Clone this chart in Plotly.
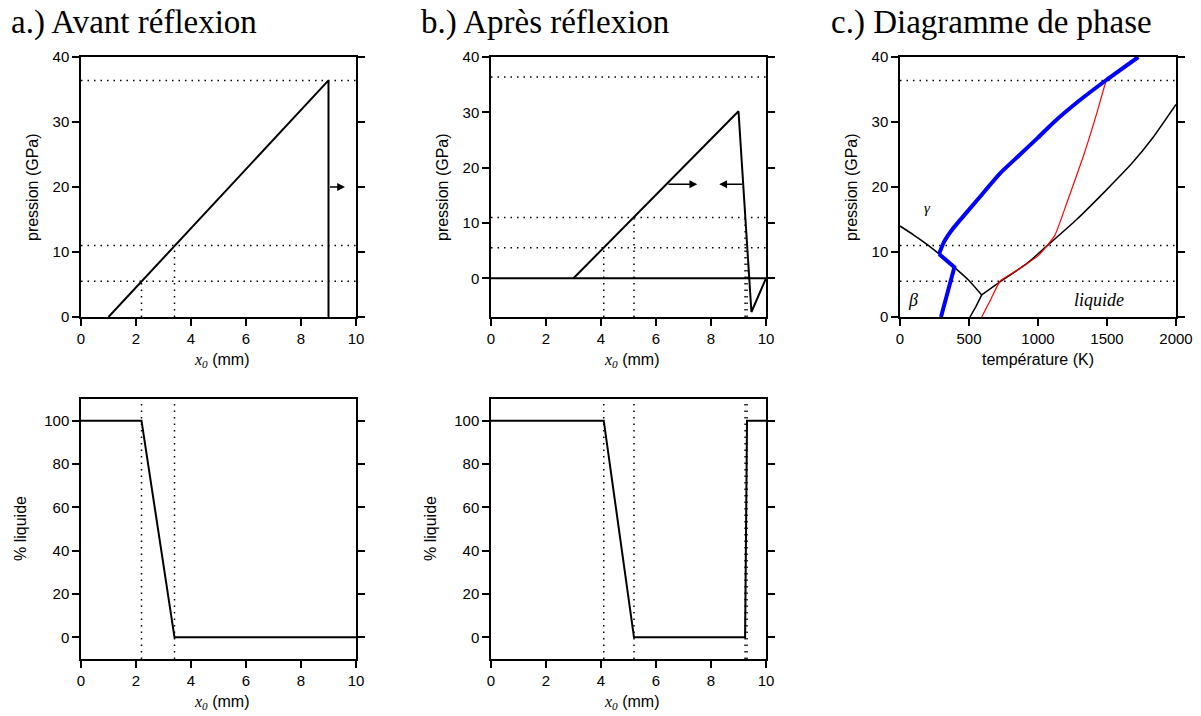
import plotly.graph_objects as go

# ---- data ----------------------------------------------------------------
# pressure levels marked by the dotted lines (GPa)
P_LEVELS = [36.4, 11.0, 5.5]

# a.) before reflection: pressure profile
A_X = [1.0, 9.0, 9.0]
A_P = [0.0, 36.4, 0.0]
A_ARROW_X = [9.0, 9.6]
A_ARROW_P = 20.0
A_VX = [2.2, 3.4]            # dotted verticals
A_VTOP = [5.5, 11.0]
A_LIQ_X = [0.0, 2.2, 3.4, 10.0]
A_LIQ = [100.0, 100.0, 0.0, 0.0]

# b.) after reflection
B_ZERO_X = [0.0, 10.0]
B_ZERO_P = [0.0, 0.0]
B_X = [3.0, 9.0, 9.47, 10.0]
B_P = [0.0, 30.2, -6.1, 0.0]
B_ARROW_R = [6.4, 7.5]
B_ARROW_L = [9.18, 8.3]
B_ARROW_P = 17.0
B_VX = [4.1, 5.2, 9.24, 9.31]
B_VTOP = [5.5, 11.0, 11.0, 5.5]
B_LIQ_X = [0.0, 4.1, 5.2, 9.24, 9.31, 10.0]
B_LIQ = [100.0, 100.0, 0.0, 0.0, 100.0, 100.0]

# c.) phase diagram (T in K, P in GPa)
GB_T = [0, 100, 200, 283, 394, 496, 592]            # gamma / beta
GB_P = [14.0, 12.6, 11.1, 9.7, 7.65, 5.7, 3.4]
BL_T = [507, 550, 592]                               # beta / liquid
BL_P = [0.0, 1.6, 3.4]
GL_T = [592, 737, 918, 1063, 1280, 1498, 1679, 1836, 2000]  # gamma / liquid
GL_P = [3.4, 5.6, 8.2, 10.9, 15.0, 19.6, 23.6, 27.7, 32.7]
BLUE_LOW_T = [297, 320, 343, 370, 394, 283]          # beta branch + along boundary
BLUE_LOW_P = [0.0, 1.8, 3.6, 5.7, 7.65, 9.7]
BLUE_UP_T = [283, 320, 380, 435, 580, 725, 870, 1000, 1111, 1300, 1498, 1727]
BLUE_UP_P = [9.7, 11.6, 13.5, 14.9, 18.5, 22.1, 25.0, 27.6, 29.9, 33.3, 36.5, 40.0]
RED_T = [592, 660, 725, 850, 1000, 1063, 1123, 1208, 1328, 1425, 1495]
RED_P = [0.0, 2.8, 5.5, 7.2, 9.4, 10.9, 12.6, 17.5, 24.7, 31.3, 36.5]

TICKS_X = [0, 2, 4, 6, 8, 10]
TICKS_P = [0, 10, 20, 30, 40]
TICKS_LIQ = [0, 20, 40, 60, 80, 100]
TICKS_T = [0, 500, 1000, 1500, 2000]

SANS = "Liberation Sans, Arial, sans-serif"
SERIF = "Liberation Serif, Times New Roman, serif"
DOT = dict(color="black", width=1.5, dash="1.5px,5px")
X0_TITLE = f'<span style="font-family:{SERIF}"><i>x</i><sub><i>0</i></sub></span> (mm)'

# figure fills the whole page (body margin removed in post_script)
W, H = 1201, 716


def px(x):
    return x / W


def py(y):
    return 1 - y / H


def hlines(levels, x0, x1):
    xs, ys = [], []
    for p in levels:
        xs += [x0, x1, None]
        ys += [p, p, None]
    return xs, ys


def vlines(xs_in, bottom, tops):
    xs, ys = [], []
    for x, t in zip(xs_in, tops):
        xs += [x, x, None]
        ys += [bottom, t, None]
    return xs, ys


fig = go.Figure()


def add_line(x, y, xa, ya, line):
    fig.add_trace(
        go.Scatter(x=x, y=y, mode="lines", line=line, xaxis=xa, yaxis=ya,
                   hoverinfo="skip", showlegend=False, connectgaps=False)
    )


SOLID = dict(color="black", width=2)

# a.) top
hx, hy = hlines(P_LEVELS, 0, 10)
add_line(hx, hy, "x", "y", DOT)
vx, vy = vlines(A_VX, 0, A_VTOP)
add_line(vx, vy, "x", "y", DOT)
add_line(A_X, A_P, "x", "y", SOLID)

# a.) bottom
vx, vy = vlines(A_VX, -10, [110, 110])
add_line(vx, vy, "x4", "y4", DOT)
add_line(A_LIQ_X, A_LIQ, "x4", "y4", SOLID)

# b.) top
add_line(hx, hy, "x2", "y2", DOT)
vx, vy = vlines(B_VX, -7, B_VTOP)
add_line(vx, vy, "x2", "y2", DOT)
add_line(B_ZERO_X, B_ZERO_P, "x2", "y2", SOLID)
add_line(B_X, B_P, "x2", "y2", SOLID)

# b.) bottom
vx, vy = vlines(B_VX, -10, [110] * len(B_VX))
add_line(vx, vy, "x5", "y5", DOT)
add_line(B_LIQ_X, B_LIQ, "x5", "y5", SOLID)

# c.) phase diagram
hx, hy = hlines(P_LEVELS, 0, 2000)
add_line(hx, hy, "x3", "y3", DOT)
THIN = dict(color="black", width=1.5, shape="spline", smoothing=0.6)
add_line(GB_T, GB_P, "x3", "y3", THIN)
add_line(BL_T, BL_P, "x3", "y3", dict(color="black", width=1.5))
add_line(GL_T, GL_P, "x3", "y3", THIN)
add_line(RED_T, RED_P, "x3", "y3", dict(color="red", width=1.2, shape="spline", smoothing=0.5))
add_line(BLUE_LOW_T, BLUE_LOW_P, "x3", "y3", dict(color="blue", width=4))
add_line(BLUE_UP_T, BLUE_UP_P, "x3", "y3",
         dict(color="blue", width=4, shape="spline", smoothing=0.6))

# arrows
arrows = [
    ("x", "y", A_ARROW_X[0], A_ARROW_X[1], A_ARROW_P),
    ("x2", "y2", B_ARROW_R[0], B_ARROW_R[1], B_ARROW_P),
    ("x2", "y2", B_ARROW_L[0], B_ARROW_L[1], B_ARROW_P),
]
for xa, ya, x0, x1, p in arrows:
    fig.add_annotation(
        x=x1, y=p, ax=x0, ay=p, xref=xa, yref=ya, axref=xa, ayref=ya,
        showarrow=True, arrowhead=2, arrowsize=1.2, arrowwidth=1.3,
        arrowcolor="black", text="",
    )

# phase labels
for txt, t, p, size in [("γ", 196, 16.8, 15), ("β", 94, 2.6, 18), ("liquide", 1442, 2.6, 18)]:
    fig.add_annotation(
        x=t, y=p, xref="x3", yref="y3", text=f"<i>{txt}</i>", showarrow=False,
        font=dict(family=SERIF, size=size, color="black"),
    )

# panel titles
for txt, xp in [("a.) Avant réflexion", 9), ("b.) Après réflexion", 419),
                ("c.) Diagramme de phase", 829)]:
    fig.add_annotation(
        x=px(xp), y=py(23), xref="paper", yref="paper", text=txt,
        showarrow=False, xanchor="left", yanchor="middle",
        font=dict(family=SERIF, size=33, color="black"),
    )

# axis titles
axis_titles = [
    (X0_TITLE, 221, 360, 0),
    (X0_TITLE, 631, 360, 0),
    ("température (K)", 1038, 359, 0),
    (X0_TITLE, 221, 702, 0),
    (X0_TITLE, 631, 702, 0),
    ("pression (GPa)", 32, 187, -90),
    ("pression (GPa)", 442, 187, -90),
    ("pression (GPa)", 851, 187, -90),
    ("% liquide", 20, 529, -90),
    ("% liquide", 430, 529, -90),
]
for txt, xp, yp, ang in axis_titles:
    fig.add_annotation(
        x=px(xp), y=py(yp), xref="paper", yref="paper", text=txt,
        showarrow=False, textangle=ang, xanchor="center", yanchor="middle",
        font=dict(family=SANS, size=16, color="black"),
    )

col_px = [(81, 356), (491, 766), (900, 1176)]
row_px = [(57, 317), (399, 659)]

axis_common = dict(
    showline=True, linecolor="black", linewidth=1.5, ticks="outside",
    ticklen=7, tickwidth=1.5, tickcolor="black", showgrid=False, zeroline=False,
    tickfont=dict(family=SANS, size=15, color="black"), automargin=False,
)

panels = [
    ("", 0, 0, [0, 10], TICKS_X, [0, 40], TICKS_P),
    ("2", 1, 0, [0, 10], TICKS_X, [-7, 40], TICKS_P),
    ("3", 2, 0, [0, 2000], TICKS_T, [0, 40], TICKS_P),
    ("4", 0, 1, [0, 10], TICKS_X, [-10, 110], TICKS_LIQ),
    ("5", 1, 1, [0, 10], TICKS_X, [-10, 110], TICKS_LIQ),
]
for suffix, c, r, xr, xt, yr, yt in panels:
    xdom = [px(col_px[c][0]), px(col_px[c][1])]
    ydom = [py(row_px[r][1]), py(row_px[r][0])]
    fig.update_layout(**{
        f"xaxis{suffix}": dict(axis_common, domain=xdom, range=xr, tickvals=xt,
                               mirror=True, anchor=f"y{suffix}"),
        f"yaxis{suffix}": dict(axis_common, domain=ydom, range=yr, tickvals=yt,
                               mirror="allticks", anchor=f"x{suffix}"),
    })

fig.update_layout(
    template="simple_white",
    width=W, height=H,
    margin=dict(l=0, r=0, t=0, b=0),
    paper_bgcolor="white", plot_bgcolor="white",
    showlegend=False,
)

fig.write_html(
    "out.html",
    config={"displayModeBar": False},
    post_script="document.body.style.margin='0';document.body.style.overflow='hidden';",
)
